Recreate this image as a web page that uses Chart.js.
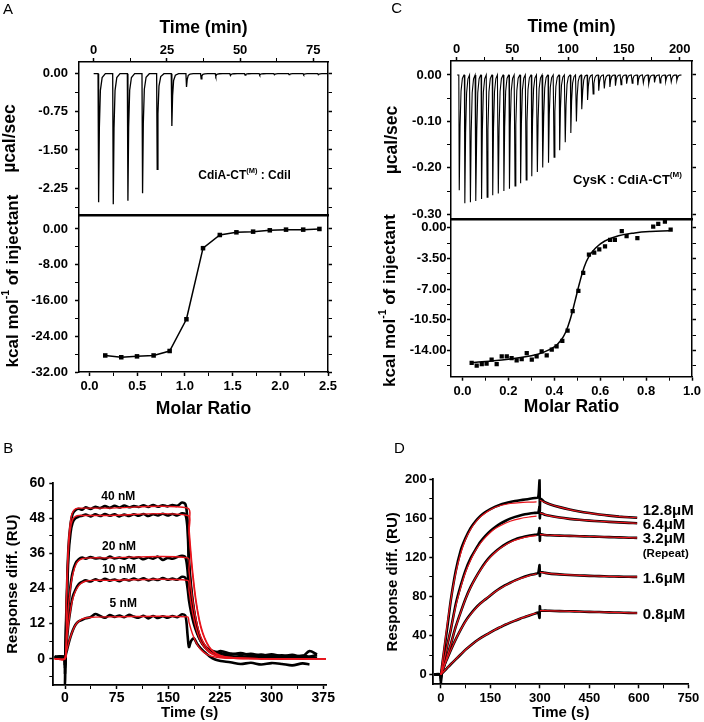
<!DOCTYPE html>
<html>
<head>
<meta charset="utf-8">
<script src="https://cdn.jsdelivr.net/npm/chart.js@4.4.1/dist/chart.umd.min.js"></script>
<style>
  body { margin: 0; background: #fff; }
  #fig { position: relative; width: 704px; height: 722px; background: #fff; }
  canvas { position: absolute; }
</style>
</head>
<body>
<div id="fig">
  <canvas id="a1" width="345" height="216" style="left:0;top:0"></canvas>
  <canvas id="a2" width="345" height="240" style="left:0;top:180px"></canvas>
  <canvas id="c1" width="354" height="220" style="left:350px;top:0"></canvas>
  <canvas id="c2" width="354" height="229" style="left:350px;top:190px"></canvas>
  <canvas id="b" width="345" height="282" style="left:0;top:440px"></canvas>
  <canvas id="d" width="354" height="282" style="left:350px;top:440px"></canvas>
</div>
<script>
const FONT = 'Arial, "Liberation Sans", sans-serif';

// ---- A: ITC raw trace (injection time in min, peak in ucal/sec)
const A_INJ_TIME = [1.5, 6.5, 11.5, 16.5, 21.5, 26.5, 31.5, 36.5, 41.5, 46.5, 51.5, 56.5, 61.5, 66.5, 71.5, 76.5];
const A_INJ_HEAT = [-2.53, -2.57, -2.5, -2.35, -1.88, -1.03, -0.26, -0.1, -0.05, -0.035, -0.03, -0.025, -0.02, -0.02, -0.02, -0.02];
// ---- A: integrated heats
const A_RATIO = [0.165, 0.333, 0.498, 0.672, 0.84, 1.016, 1.19, 1.366, 1.54, 1.715, 1.89, 2.06, 2.24, 2.41];
const A_KCAL = [-28.3, -28.7, -28.5, -28.3, -27.3, -20.2, -4.3, -1.35, -0.75, -0.6, -0.3, -0.15, -0.15, 0];

// ---- C: ITC raw trace
const C_INJ_TIME = [2, 7, 12, 17, 22, 27, 32, 37, 42, 47, 52, 57, 62, 67, 72, 77, 82, 87, 92, 97,
  102, 107, 112, 117, 122, 127, 132, 137, 142, 147, 152, 157, 162, 167, 172, 177, 182, 187, 192, 197];
const C_INJ_HEAT = [-0.248, -0.276, -0.274, -0.271, -0.267, -0.263, -0.259, -0.255, -0.25, -0.245,
  -0.239, -0.233, -0.226, -0.218, -0.209, -0.199, -0.189, -0.177, -0.162, -0.145,
  -0.125, -0.1, -0.074, -0.054, -0.041, -0.034, -0.029, -0.026, -0.023, -0.021,
  -0.019, -0.018, -0.022, -0.017, -0.019, -0.016, -0.017, -0.014, -0.015, -0.012];
// ---- C: integrated heats + fit
const C_RATIO = [0.04, 0.062, 0.084, 0.105, 0.127, 0.149, 0.171, 0.193, 0.214, 0.236, 0.258, 0.28,
  0.302, 0.323, 0.345, 0.367, 0.389, 0.41, 0.435, 0.458, 0.48, 0.505, 0.526, 0.551, 0.574, 0.596,
  0.621, 0.643, 0.664, 0.694, 0.715, 0.762, 0.831, 0.853, 0.882, 0.907];
const C_KCAL = [-15.43, -15.74, -15.55, -15.51, -15.06, -15.55, -14.68, -14.68, -14.87, -15.13, -14.98, -14.3,
  -15.06, -14.68, -14.11, -14.57, -13.92, -13.54, -12.9, -11.73, -9.5, -7.19, -5.15, -3.06, -2.84, -2.46,
  -2.12, -1.36, -1.36, -0.38, -0.95, -1.18, 0.15, 0.45, 0.71, -0.19];
const C_FIT_RATIO = [0.04, 0.1, 0.2, 0.3, 0.35, 0.4, 0.43, 0.45, 0.47, 0.49, 0.51, 0.53, 0.55, 0.58, 0.62, 0.68, 0.75, 0.82, 0.9];
const C_FIT_KCAL = [-15.4, -15.25, -15.0, -14.6, -14.25, -13.6, -12.8, -11.9, -10.4, -8.4, -6.3, -4.5, -3.3, -2.3, -1.5, -0.9, -0.58, -0.42, -0.34];

// ---- B: SPR sensorgrams (RU)
const B_TIME = [-15, -8, -1, 0, 1, 3, 5, 8, 11, 15, 20, 25, 30, 37, 44, 51, 58, 65, 72, 79, 86, 93, 100, 107, 114,
  121, 128, 135, 142, 149, 156, 163, 170, 175, 178, 180, 183, 187, 192, 197, 203, 210, 218, 226, 240,
  255, 270, 285, 300, 315, 330, 345, 355, 366];
const B_40A = [0.8, 0.5, 0.6, -5, 8, 25, 38, 46, 49.5, 50.8, 51.3, 51.0, 51.8, 51.2, 52.0,
  51.5, 52.2, 51.6, 52.3, 51.7, 52.4, 51.8, 52.2, 51.9, 52.5, 51.9, 52.6, 52.0, 52.5, 52.1,
  52.6, 52.3, 53.4, 52.8, 47, 34, 25, 17, 10.5, 6.5, 4.2, 2.8, 2.0, 2.6, 1.8,
  1.3, 1.7, 1.0, 1.5, 0.9, 1.3, 0.8, 2.6, 1.4];
const B_40B = [0.3, 0.7, 0.2, -2, 6, 22, 35, 43, 46.5, 48, 48.6, 48.9, 49.3, 48.7, 49.4,
  48.8, 49.5, 48.9, 49.4, 48.7, 49.3, 48.8, 49.4, 48.9, 49.5, 48.8, 49.4, 49.0, 49.6, 49.0,
  49.5, 49.0, 49.7, 49.2, 44, 32, 23.5, 16.5, 10.5, 6.8, 4.4, 3.0, 2.4, 1.9, 1.4,
  1.9, 1.1, 1.4, 0.8, 1.2, 0.6, 1.1, 0.7, 1.3];
const B_20 = [0.5, 0.3, 0.4, -2, 3, 11, 18, 25, 29.5, 32.5, 34.0, 34.6, 34.2, 34.8, 34.3,
  34.5, 34.1, 34.9, 34.3, 34.6, 34.2, 34.8, 34.3, 34.7, 34.0, 34.6, 34.2, 34.9, 33.8, 34.5,
  34.2, 34.8, 35.2, 34.6, 30, 23.5, 18, 13, 9, 6.2, 4.0, 2.6, 1.7, 1.2, 0.8,
  0.5, 0.9, 0.4, 0.7, 0.3, 0.6, 0.2, 0.5, 0.3];
const B_10 = [0.6, 0.4, 0.3, -3, 2, 7, 12, 17, 21, 23.5, 25.5, 26.3, 26.8, 26.4, 27.2,
  26.6, 27.3, 26.7, 27.1, 26.5, 27.2, 26.8, 27.4, 26.9, 27.5, 26.8, 27.3, 26.9, 27.6, 27.0,
  27.4, 27.0, 28.0, 27.6, 24, 20, 16, 12, 8.5, 6, 4.0, 2.5, 1.6, 0.9, 0.6,
  0.3, 0.7, 0.2, 0.5, 0.1, 0.4, 0.0, 0.3, 0.2];
const B_5 = [0.4, 0.8, 0.5, -8.5, 1, 3, 5, 7.5, 9.5, 11.5, 12.8, 13.3, 13.8, 14.2, 15.3,
  14.6, 14.0, 14.9, 14.3, 14.8, 14.2, 15.0, 14.4, 14.0, 14.7, 13.8, 14.6, 13.9, 14.5, 14.0,
  14.6, 14.2, 15.2, 14.6, 8, 4, 6, 7, 5, 3.5, 2.2, 0.8, -0.3, -0.8, -1.2,
  -1.8, -1.4, -2.0, -1.5, -1.8, -2.3, -1.6, -2.0, null];
const B_FIT_TIME = [-15, 0, 2, 4, 6, 9, 12, 16, 20, 25, 30, 40, 60, 178,
  180, 183, 186, 190, 195, 200, 206, 212, 220, 230, 245, 265, 300, 379];
const B_FIT_40A = [0, 0, 20, 35, 43, 48.5, 50.5, 51.3, 51.5, 51.5, 51.5, 51.5, 51.5, 51.5,
  45, 36, 28.5, 20.5, 13.5, 9, 5.5, 3.3, 1.7, 0.8, 0.3, 0.1, 0, 0];
const B_FIT_40B = [0, 0, 18, 32, 40.5, 46, 48, 48.8, 49, 49, 49, 49, 49, 49,
  42.8, 34.2, 27, 19.5, 12.8, 8.5, 5.2, 3.1, 1.6, 0.8, 0.3, 0.1, 0, 0];
const B_FIT_20 = [0, 0, 8, 15, 20.5, 26, 29.5, 32.3, 33.6, 34.2, 34.4, 34.5, 34.5, 34.5,
  30.2, 24, 19, 13.7, 9, 6, 3.7, 2.2, 1.1, 0.5, 0.2, 0.1, 0, 0];
const B_FIT_10 = [0, 0, 5, 9.5, 13.5, 18, 21, 23.5, 25, 26, 26.5, 26.8, 26.8, 26.8,
  23.4, 18.7, 14.8, 10.7, 7, 4.7, 2.9, 1.7, 0.9, 0.4, 0.15, 0.05, 0, 0];
const B_FIT_5 = [0, 0, 2.2, 4.2, 6, 8.2, 10, 11.8, 12.8, 13.6, 13.9, 14.2, 14.3, 14.3,
  12.5, 10, 7.9, 5.7, 3.8, 2.5, 1.5, 0.9, 0.5, 0.2, 0.1, 0, 0, 0];

// ---- D: SPR sensorgrams (RU)
const D_TIME = [-20, -8, -1, 0, 2, 10, 20, 30, 45, 60, 75, 90, 105, 120, 135, 150, 165, 180, 195, 210,
  225, 240, 255, 270, 285, 295, 299, 300, 302, 315, 330, 360, 390, 420, 450, 480, 510, 540, 570, 595];
const D_128 = [0, 0.5, 0, -9, 4, 25, 50, 76, 106, 127, 140, 150, 157, 162.5, 166.5, 169.5, 172, 174, 175.5, 176.8,
  177.8, 178.6, 179.3, 180, 180.8, 181.5, 200, 168, 180, 176.5, 174.5, 171.5, 169, 167, 165.4, 164, 162.8, 161.8, 161.1, 160.6];
const D_64 = [0, 0.3, 0, -6, 2, 15, 31, 46, 72, 91, 107, 119, 128, 136, 142, 147, 151, 154.5, 157.3, 159.7,
  161.5, 163, 164.2, 165, 165.6, 166, 172, 160, 165.5, 163.8, 162.6, 160.8, 159.5, 158.5, 157.7, 157, 156.4, 155.9, 155.4, 155];
const D_32 = [0, 0.2, 0, -4, 1, 9, 20, 31, 49, 64, 78, 89.5, 99, 107.5, 115, 121, 125.8, 129.8, 133.3, 136.2,
  138.5, 140.2, 141.5, 142.5, 143.2, 143.6, 150, 137, 143.5, 143, 142.7, 142.3, 142, 141.7, 141.4, 141.1, 140.8, 140.5, 140.2, 140];
const D_16 = [0, 0.2, 0, -3, 1, 9, 17, 25, 36, 46, 55, 62, 68, 73, 77, 81, 85, 88.5, 91.5, 94,
  96.5, 98.5, 100.5, 102, 103, 104, 112, 101, 105, 104.2, 103.4, 102.6, 102, 101.5, 101.1, 100.8, 100.5, 100.3, 100.1, 100];
const D_08 = [0, 0.2, 0, -2, 0.5, 3.5, 7, 10.5, 15.5, 20.5, 25.5, 29.8, 33.8, 37.3, 40.3, 43.2, 46, 48.5, 51, 53.2,
  55.2, 57.2, 59, 60.8, 62.4, 63.4, 58, 70, 65.5, 65.5, 65.3, 65, 64.8, 64.5, 64.2, 64, 63.7, 63.5, 63.2, 63];
const D_FIT_TIME = [0, 10, 20, 30, 45, 60, 75, 90, 105, 120, 135, 150, 165, 180, 210,
  240, 270, 290, 296, 300, 330, 360, 390, 420, 450, 480, 510, 540, 570, 595];
const D_FIT_128 = [0, 27, 53, 76, 104, 124, 138.5, 148.5, 156, 161.5, 165.5, 168.8, 171.3, 173.2, 175.2,
  176.2, 176.6, 176.8, null, 178.5, 174.5, 171.5, 169, 167, 165.4, 164, 162.8, 161.8, 161.1, 160.6];
const D_FIT_64 = [0, 15, 31, 46, 70, 89, 105, 117, 127, 134.5, 140.5, 145.5, 149.5, 152.5, 157,
  159.8, 161.5, 162.3, null, 165.5, 162.6, 160.8, 159.5, 158.5, 157.7, 157, 156.4, 155.9, 155.4, 155];
const D_FIT_32 = [0, 9, 20, 31, 48.5, 63.5, 77.5, 89, 98.8, 107, 114.2, 120.3, 125.2, 129.3, 135.6,
  139.3, 141.5, 142.3, null, 143.3, 142.7, 142.3, 142, 141.7, 141.4, 141.1, 140.8, 140.5, 140.2, 140];
const D_FIT_16 = [0, 8.5, 17, 25, 36, 46, 54.5, 61.5, 67.5, 72.8, 77.2, 81.2, 84.8, 88.2, 93.8,
  98.2, 101.6, 103.2, null, 104.8, 103.4, 102.6, 102, 101.5, 101.1, 100.8, 100.5, 100.3, 100.1, 100];
const D_FIT_08 = [0, 3.6, 7.1, 10.6, 15.6, 20.6, 25.4, 29.7, 33.7, 37.2, 40.3, 43.2, 46, 48.6, 53.3,
  57.3, 60.9, 63, null, 65.5, 65.3, 65, 64.8, 64.5, 64.2, 64, 63.7, 63.5, 63.2, 63];

// shape of one injection peak: [minutes after injection, fraction of peak]
const A_SHAPE = [[0, 0], [0.2, 1], [0.45, 0.42], [0.8, 0.13], [1.4, 0.03], [2.5, 0]];
const C_SHAPE = [[0, 0], [0.4, 1], [1.1, 0.45], [2.0, 0.14], [3.2, 0.03], [4.6, 0]];

const RED = '#e8141c';

function xy(xs, ys) {
  return xs.map((x, i) => ({ x: x, y: ys[i] }));
}

function spikeTrace(times, peaks, shape, tStart, tEnd) {
  const pts = [{ x: tStart, y: 0 }];
  times.forEach((t, i) => {
    shape.forEach(s => pts.push({ x: t + s[0], y: peaks[i] * s[1] }));
  });
  pts.push({ x: tEnd, y: 0 });
  return pts;
}

// draws panel letters, notes and titles with superscripts
const figText = {
  id: 'figText',
  afterDraw(chart, args, opts) {
    const ctx = chart.ctx;
    (opts.items || []).forEach(it => {
      let x = it.x, y = it.y;
      if (it.data) {
        x = chart.scales.x.getPixelForValue(it.x);
        y = chart.scales.y.getPixelForValue(it.y);
      }
      const parts = it.parts || [{ t: it.text }];
      const size = it.size || 12;
      const weight = it.bold === false ? 'normal' : 'bold';
      ctx.save();
      ctx.translate(x, y);
      if (it.rot) ctx.rotate(it.rot);
      ctx.fillStyle = '#000';
      ctx.textBaseline = 'middle';
      ctx.textAlign = 'left';
      const widths = parts.map(p => {
        ctx.font = weight + ' ' + (p.sup ? size * 0.62 : size) + 'px ' + FONT;
        return ctx.measureText(p.t).width;
      });
      const total = widths.reduce((a, b) => a + b, 0);
      let cx = it.align === 'left' ? 0 : -total / 2;
      parts.forEach((p, i) => {
        ctx.font = weight + ' ' + (p.sup ? size * 0.62 : size) + 'px ' + FONT;
        ctx.fillText(p.t, cx, p.sup ? -size * 0.4 : 0);
        cx += widths[i];
      });
      ctx.restore();
    });
  }
};

function linAxis(o) {
  const isMajor = v => Math.abs(v / o.major - Math.round(v / o.major)) < 1e-6;
  const horiz = o.pos === 'top' || o.pos === 'bottom';
  return {
    type: 'linear',
    position: o.pos,
    min: o.min,
    max: o.max,
    afterFit: s => {
      if (horiz) s.height = o.size; else s.width = o.size;
      // keep the fixed box: no extra room for end labels
      s.paddingTop = s.paddingBottom = s.paddingLeft = s.paddingRight = 0;
    },
    border: { display: true, color: '#000', width: o.bw || 1.5 },
    grid: {
      drawOnChartArea: false,
      drawTicks: o.ticks !== false,
      tickLength: 4,
      tickColor: '#000',
      tickWidth: c => (c.tick && isMajor(c.tick.value) ? 1.5 : 1)
    },
    ticks: {
      display: !!o.labels,
      stepSize: o.step,
      includeBounds: false,
      autoSkip: false,
      maxRotation: 0,
      minRotation: 0,
      maxTicksLimit: 500,
      padding: o.pad || 0,
      color: '#000',
      font: { family: FONT, size: o.fs || 13, weight: 'bold' },
      callback: v => {
        if (!isMajor(v)) return '';
        if (Math.abs(v) < 1e-9) v = 0;
        return v.toFixed(o.digits);
      }
    },
    title: o.title ? {
      display: true, text: o.title, color: '#000',
      font: { family: FONT, size: o.tfs || 17, weight: 'bold' },
      padding: o.tpad
    } : { display: false }
  };
}

function makeChart(id, datasets, scales, padding, texts) {
  return new Chart(document.getElementById(id), {
    type: 'line',
    data: { datasets: datasets },
    options: {
      responsive: false,
      animation: false,
      events: [],
      layout: { padding: padding, autoPadding: false },
      plugins: { legend: { display: false }, tooltip: { enabled: false }, figText: { items: texts } },
      scales: scales
    },
    plugins: [figText]
  });
}

function lineSet(data, color, width, order, tension) {
  return { data: data, borderColor: color, borderWidth: width, pointRadius: 0, tension: tension || 0, order: order || 0 };
}

// ---------- A top
makeChart('a1',
  [lineSet(spikeTrace(A_INJ_TIME, A_INJ_HEAT, A_SHAPE, 0, 80), '#000', 1.3)],
  {
    x: linAxis({ pos: 'top', min: -5, max: 80, step: 12.5, major: 25, digits: 0, size: 62, labels: true, pad: 0,
      title: 'Time (min)', tfs: 17.5, tpad: { top: 17.6, bottom: 0 } }),
    xb: linAxis({ pos: 'bottom', min: -5, max: 80, step: 12.5, major: 25, digits: 0, size: 1, ticks: false }),
    y: linAxis({ pos: 'left', min: -2.78, max: 0.23, step: 0.375, major: 0.75, digits: 2, size: 79, labels: true, pad: 7,
      title: 'µcal/sec', tfs: 17.5, tpad: { top: 0, bottom: 0 } }),
    yr: linAxis({ pos: 'right', min: -2.78, max: 0.23, step: 0.375, major: 0.75, digits: 2, size: 17 })
  },
  { top: 0, right: 0, bottom: 0, left: 0 },
  [
    { text: 'A', x: 8, y: 10, size: 15, bold: false },
    { parts: [{ t: 'CdiA-CT' }, { t: '(M)', sup: true }, { t: ' : CdiI' }], x: 244.5, y: 175.7, size: 12 }
  ]
);

// ---------- A bottom
makeChart('a2',
  [{
    data: xy(A_RATIO, A_KCAL), borderColor: '#000', borderWidth: 1.5, tension: 0,
    pointStyle: 'rect', pointRadius: 3.2, pointBackgroundColor: '#000', pointBorderWidth: 0
  }],
  {
    xt: linAxis({ pos: 'top', min: -0.11, max: 2.5, step: 0.25, major: 0.5, digits: 1, size: 36, ticks: false }),
    x: linAxis({ pos: 'bottom', min: -0.11, max: 2.5, step: 0.25, major: 0.5, digits: 1, size: 48, labels: true, pad: 3,
      title: 'Molar Ratio', tfs: 17.5, tpad: { top: 0, bottom: 0.2 } }),
    y: linAxis({ pos: 'left', min: -32, max: 2.9, step: 4, major: 8, digits: 2, size: 79, labels: true, pad: 7 }),
    yr: linAxis({ pos: 'right', min: -32, max: 2.9, step: 4, major: 8, digits: 2, size: 17 })
  },
  { top: 0, right: 0, bottom: 0, left: 0 },
  [
    { parts: [{ t: 'kcal mol' }, { t: '-1', sup: true }, { t: ' of injectant' }], x: 13.3, y: 101, size: 17, rot: -Math.PI / 2 }
  ]
);

// ---------- C top
makeChart('c1',
  [lineSet(spikeTrace(C_INJ_TIME, C_INJ_HEAT, C_SHAPE, 0.5, 202), '#000', 1.1)],
  {
    x: linAxis({ pos: 'top', min: -5, max: 211, step: 25, major: 50, digits: 0, size: 61, labels: true, pad: 0,
      title: 'Time (min)', tfs: 17.5, tpad: { top: 16.8, bottom: 0 } }),
    xb: linAxis({ pos: 'bottom', min: -5, max: 211, step: 25, major: 50, digits: 0, size: 1, ticks: false }),
    y: linAxis({ pos: 'left', min: -0.31, max: 0.03, step: 0.05, major: 0.1, digits: 2, size: 101, labels: true, pad: 5.3,
      title: 'µcal/sec', tfs: 17.5, tpad: { top: 31.2, bottom: 0 } }),
    yr: linAxis({ pos: 'right', min: -0.31, max: 0.03, step: 0.05, major: 0.1, digits: 2, size: 12 })
  },
  { top: 0, right: 0, bottom: 0, left: 0 },
  [
    { text: 'C', x: 46.7, y: 9, size: 15, bold: false },
    { parts: [{ t: 'CysK : CdiA-CT' }, { t: '(M)', sup: true }], x: 277.5, y: 180, size: 13 }
  ]
);

// ---------- C bottom
makeChart('c2',
  [
    {
      data: xy(C_RATIO, C_KCAL), showLine: false, pointStyle: 'rect', pointRadius: 3,
      pointBackgroundColor: '#000', pointBorderWidth: 0, order: 0
    },
    lineSet(xy(C_FIT_RATIO, C_FIT_KCAL), '#000', 1.5, 1, 0.4)
  ],
  {
    xt: linAxis({ pos: 'top', min: -0.05, max: 1.0, step: 0.1, major: 0.2, digits: 1, size: 30, ticks: false }),
    x: linAxis({ pos: 'bottom', min: -0.05, max: 1.0, step: 0.1, major: 0.2, digits: 1, size: 42.3, labels: true, pad: 3.2,
      title: 'Molar Ratio', tfs: 17.5, tpad: { top: 0, bottom: 1.8 } }),
    y: linAxis({ pos: 'left', min: -17, max: 0.9, step: 1.75, major: 3.5, digits: 2, size: 101, labels: true, pad: 0.5 }),
    yr: linAxis({ pos: 'right', min: -17, max: 0.9, step: 1.75, major: 3.5, digits: 2, size: 12 })
  },
  { top: 0, right: 0, bottom: 0, left: 0 },
  [
    { parts: [{ t: 'kcal mol' }, { t: '-1', sup: true }, { t: ' of injectant' }], x: 40, y: 110.5, size: 17, rot: -Math.PI / 2 }
  ]
);

// ---------- B
makeChart('b',
  [
    lineSet(xy(B_FIT_TIME, B_FIT_40A), RED, 1.4, 0, 0.3),
    lineSet(xy(B_FIT_TIME, B_FIT_40B), RED, 1.4, 0, 0.3),
    lineSet(xy(B_FIT_TIME, B_FIT_20), RED, 1.4, 0, 0.3),
    lineSet(xy(B_FIT_TIME, B_FIT_10), RED, 1.4, 0, 0.3),
    lineSet(xy(B_FIT_TIME, B_FIT_5), RED, 1.4, 0, 0.3),
    lineSet(xy(B_TIME, B_40A), '#000', 2.6, 1, 0.3),
    lineSet(xy(B_TIME, B_40B), '#000', 2.6, 1, 0.3),
    lineSet(xy(B_TIME, B_20), '#000', 2.6, 1, 0.3),
    lineSet(xy(B_TIME, B_10), '#000', 2.6, 1, 0.3),
    lineSet(xy(B_TIME, B_5), '#000', 2.6, 1, 0.3)
  ],
  {
    x: linAxis({ pos: 'bottom', min: -17, max: 379, step: 37.5, major: 75, digits: 0, size: 37, labels: true, pad: 1, fs: 14,
      bw: 1.8, title: 'Time (s)', tfs: 15, tpad: { top: 0, bottom: 0 } }),
    y: linAxis({ pos: 'left', min: -9, max: 60, step: 6, major: 12, digits: 0, size: 53.3, labels: true, pad: 4.3, fs: 14,
      bw: 1.8, title: 'Response diff. (RU)', tfs: 15, tpad: { top: 4.3, bottom: 0 } })
  },
  { top: 43.3, right: 19, bottom: 0, left: 0 },
  [
    { text: 'B', x: 8.3, y: 9, size: 15, bold: false },
    { text: '40 nM', data: true, x: 77.4, y: 55.4, size: 12 },
    { text: '20 nM', data: true, x: 78.4, y: 38.4, size: 12 },
    { text: '10 nM', data: true, x: 78.4, y: 30.4, size: 12 },
    { text: '5 nM', data: true, x: 84.6, y: 18.8, size: 12 }
  ]
);

// ---------- D
makeChart('d',
  [
    lineSet(xy(D_FIT_TIME, D_FIT_128), RED, 1.2, 0, 0.3),
    lineSet(xy(D_FIT_TIME, D_FIT_64), RED, 1.2, 0, 0.3),
    lineSet(xy(D_FIT_TIME, D_FIT_32), RED, 1.2, 0, 0.3),
    lineSet(xy(D_FIT_TIME, D_FIT_16), RED, 1.2, 0, 0.3),
    lineSet(xy(D_FIT_TIME, D_FIT_08), RED, 1.2, 0, 0.3),
    lineSet(xy(D_TIME, D_128), '#000', 2.6, 1, 0.2),
    lineSet(xy(D_TIME, D_64), '#000', 2.6, 1, 0.2),
    lineSet(xy(D_TIME, D_32), '#000', 2.6, 1, 0.2),
    lineSet(xy(D_TIME, D_16), '#000', 2.6, 1, 0.2),
    lineSet(xy(D_TIME, D_08), '#000', 2.6, 1, 0.2)
  ],
  {
    x: linAxis({ pos: 'bottom', min: -23, max: 750, step: 75, major: 150, digits: 0, size: 37.7, labels: true, pad: 2.2,
      bw: 1.8, title: 'Time (s)', tfs: 15, tpad: { top: 0, bottom: 0 } }),
    y: linAxis({ pos: 'left', min: -10, max: 200, step: 20, major: 40, digits: 0, size: 83.3, labels: true, pad: 2.6,
      bw: 1.8, title: 'Response diff. (RU)', tfs: 15, tpad: { top: 34.3, bottom: 0 } })
  },
  { top: 39.3, right: 15.7, bottom: 0, left: 0 },
  [
    { text: 'D', x: 49.3, y: 9, size: 15, bold: false },
    { text: '12.8μM', data: true, x: 612, y: 167.5, size: 15, align: 'left' },
    { text: '6.4μM', data: true, x: 612, y: 153.8, size: 15, align: 'left' },
    { text: '3.2μM', data: true, x: 612, y: 139.5, size: 15, align: 'left' },
    { text: '(Repeat)', data: true, x: 612, y: 124, size: 11.5, align: 'left' },
    { text: '1.6μM', data: true, x: 612, y: 98.5, size: 15, align: 'left' },
    { text: '0.8μM', data: true, x: 612, y: 60.8, size: 15, align: 'left' }
  ]
);
</script>
</body>
</html>
